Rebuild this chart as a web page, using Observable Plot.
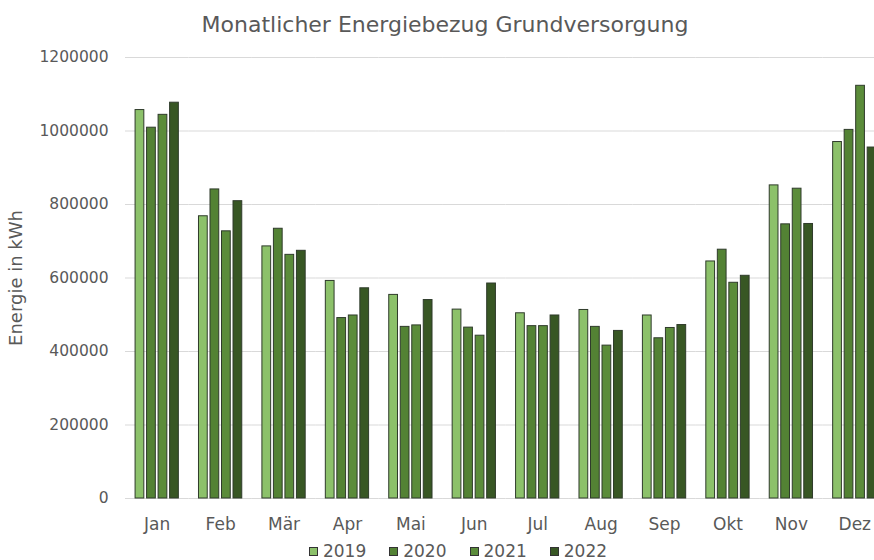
<!DOCTYPE html>
<html>
<head>
<meta charset="utf-8">
<script src="https://cdn.jsdelivr.net/npm/d3@7"></script>
<script src="https://cdn.jsdelivr.net/npm/@observablehq/plot@0.6"></script>
<style>
  html, body { margin: 0; padding: 0; background: #fff; overflow: hidden; }
  body { width: 874px; height: 560px; font-family: "DejaVu Sans", Verdana, sans-serif; color: #595959; }
  #title { height: 45px; line-height: 50px; text-align: center; font-size: 22px; padding-left: 16px; box-sizing: border-box; }
  #chart { height: 493px; }
  #chart svg { display: block; }
  #legend { display: flex; justify-content: center; align-items: center; height: 20px; line-height: 20px; margin-top: 3px; font-size: 17px; padding-left: 42px; box-sizing: border-box; }
  #legend .item { display: flex; align-items: center; margin-right: 23px; }
  #legend .item:last-child { margin-right: 0; }
  #legend .sw { width: 7px; height: 7px; border: 1px solid #333; margin-right: 5px; }
  svg text { fill: #595959; }
</style>
</head>
<body>
<div id="title">Monatlicher Energiebezug Grundversorgung</div>
<div id="chart"></div>
<div id="legend"></div>
<script>
const months = ["Jan","Feb","Mär","Apr","Mai","Jun","Jul","Aug","Sep","Okt","Nov","Dez"];
const years = ["2019","2020","2021","2022"];
const v2019 = [1057000, 768000, 686000, 592000, 554000, 514000, 504000, 513000, 498000, 645000, 852000, 970000];
const v2020 = [1009000, 841000, 734000, 491000, 467000, 465000, 469000, 467000, 436000, 677000, 746000, 1003000];
const v2021 = [1044000, 727000, 663000, 498000, 471000, 443000, 469000, 416000, 464000, 587000, 843000, 1123000];
const v2022 = [1077000, 809000, 674000, 572000, 540000, 585000, 498000, 456000, 472000, 606000, 747000, 955000];
const colors = ["#8cc16a", "#538234", "#5b8c3a", "#385724"];
const yTicks = [0, 200000, 400000, 600000, 800000, 1000000, 1200000];

const series = [v2019, v2020, v2021, v2022];
const data = [];
months.forEach((m, i) => {
  years.forEach((y, j) => data.push({month: m, year: y, value: series[j][i]}));
});

const chart = Plot.plot({
  width: 874,
  height: 493,
  marginTop: 12,
  marginLeft: 125,
  marginRight: -12,
  marginBottom: 40,
  style: {fontFamily: "DejaVu Sans, Verdana, sans-serif", fontSize: "15.5px", color: "#595959", background: "#fff", overflow: "hidden"},
  fx: {domain: months, padding: 0, round: false, axis: "bottom", label: null, tickSize: 0, tickPadding: 19},
  x: {domain: years, paddingInner: 0.24, paddingOuter: 0.875, round: false, axis: null},
  y: {domain: [0, 1200000], ticks: yTicks, tickFormat: d => String(d), tickSize: 0, tickPadding: 17,
      label: "Energie in kWh", labelAnchor: "center", labelOffset: 116, labelArrow: "none"},
  color: {domain: years, range: colors},
  marks: [
    Plot.ruleY(yTicks, {stroke: "#d9d9d9", strokeWidth: 1}),
    Plot.barY(data, {fx: "month", x: "year", y: "value", fill: "year", stroke: "#2f3b2b", strokeWidth: 1})
  ]
});
document.getElementById("chart").appendChild(chart);

// enlarge month labels and y label a little, as in the reference
chart.querySelectorAll("[aria-label='fx-axis tick label'] text, [aria-label='fx-axis'] text").forEach(t => t.style.fontSize = "17px");
chart.querySelectorAll("[aria-label='y-axis label'] text, [aria-label='y-axis label']").forEach(t => t.style.fontSize = "18px");

const legend = document.getElementById("legend");
years.forEach((y, j) => {
  const item = document.createElement("div");
  item.className = "item";
  const sw = document.createElement("div");
  sw.className = "sw";
  sw.style.background = colors[j];
  const t = document.createElement("span");
  t.textContent = y;
  item.appendChild(sw);
  item.appendChild(t);
  legend.appendChild(item);
});
</script>
</body>
</html>
